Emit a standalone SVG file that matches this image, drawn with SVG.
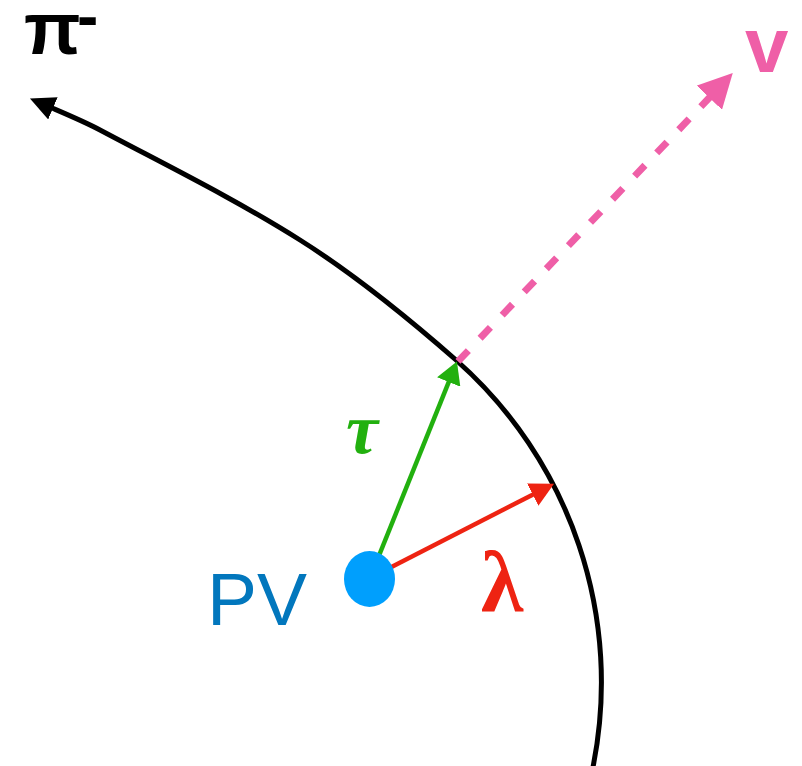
<svg xmlns="http://www.w3.org/2000/svg" width="802" height="766" viewBox="0 0 802 766">
<style>
  .conn { fill: none; stroke-linecap: butt; }
  .lbl { font-family: "Liberation Sans", Arial, sans-serif; }
  .greek { font-family: "Liberation Serif", "Times New Roman", serif; }
</style>
<defs>
  <marker id="mBlack" markerUnits="userSpaceOnUse" orient="auto" markerWidth="26" markerHeight="24" refX="1" refY="12">
    <path d="M0,0 L25,12 L0,24 Z" fill="#000000"/>
  </marker>
  <marker id="mGreen" markerUnits="userSpaceOnUse" orient="auto" markerWidth="23" markerHeight="25" refX="1" refY="12.5">
    <path d="M0,0 L22,12.5 L0,25 Z" fill="#22b00f"/>
  </marker>
  <marker id="mRed" markerUnits="userSpaceOnUse" orient="auto" markerWidth="25" markerHeight="25" refX="1" refY="12.5">
    <path d="M0,0 L24,12.5 L0,25 Z" fill="#ee2312"/>
  </marker>
  <marker id="mPink" markerUnits="userSpaceOnUse" orient="auto" markerWidth="35" markerHeight="35" refX="1" refY="17.5">
    <path d="M0,0 L34,17.5 L0,35 Z" fill="#ef5fa7"/>
  </marker>
</defs>
<rect width="802" height="766" fill="#ffffff"/>
<g id="connectors">
  <path id="pion-track" class="conn" stroke="#000000" stroke-width="5" marker-end="url(#mBlack)"
        d="M593,767 A430,430 0 0 0 456,360 C406.4,316.5 355.8,275.2 300,240 C235.7,199.4 167.1,165.6 100,130 C85,122 66,114 52,108"/>
  <path id="neutrino" class="conn" stroke="#ef5fa7" stroke-width="7" stroke-dasharray="15 17" marker-end="url(#mPink)"
        d="M458,361.4 L710,97"/>
  <path id="tau" class="conn" stroke="#22b00f" stroke-width="4.5" marker-end="url(#mGreen)"
        d="M370,578 L449.1,381.1"/>
  <path id="lambda" class="conn" stroke="#ee2312" stroke-width="4.5" marker-end="url(#mRed)"
        d="M370,578 L533.6,494.2"/>
</g>
<g id="pv">
  <ellipse cx="369.5" cy="579" rx="25.5" ry="28" fill="#009ffd"/>
  <text class="lbl" x="207" y="625" font-size="75" fill="#0277bd">PV</text>
</g>
<g id="label-tau">
  <text class="greek" x="346" y="453" font-size="72" font-style="italic" font-weight="bold" fill="#22b00f">τ</text>
</g>
<g id="label-lambda">
  <text class="greek" x="481" y="611" font-size="86" font-weight="bold" fill="#ee2312">λ</text>
</g>
<g id="label-pion">
  <text class="lbl" x="24" y="54" font-size="74" font-weight="bold" fill="#000000">π<tspan x="77" y="38" font-size="64">-</tspan></text>
</g>
<g id="label-nu">
  <text class="lbl" x="745" y="72" font-size="78" font-weight="bold" fill="#ef5fa7">v</text>
</g>
</svg>
